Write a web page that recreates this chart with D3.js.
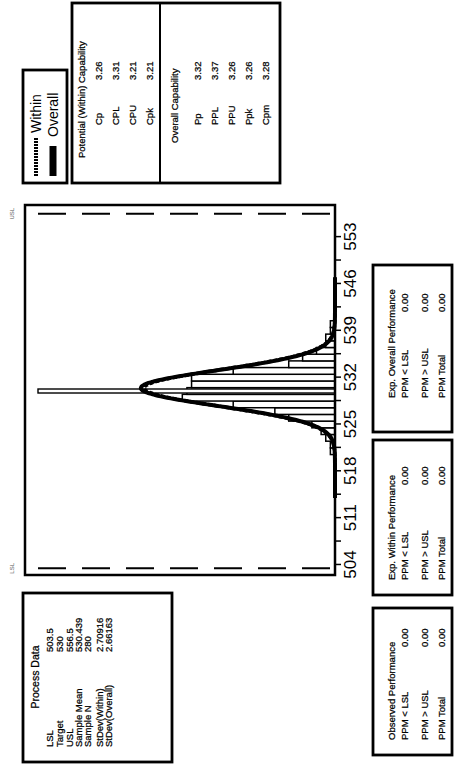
<!DOCTYPE html>
<html>
<head>
<meta charset="utf-8">
<script src="https://cdn.jsdelivr.net/npm/d3@7"></script>
<style>
  body { margin: 0; background: #fff; }
  text { font-family: "Liberation Sans", Arial, sans-serif; fill: #000; }
  text.small { stroke: #000; stroke-width: 0.25px; }
</style>
</head>
<body>
<div id="chart"></div>
<script>
// histogram bins (centre of each 1-unit bin) and counts
const binCenters = [521,522,523,524,525,526,527,528,529,530,531,532,533,534,535,536,537,538,539,540];
const binCounts  = [1,1,2,3,5,10,13,22,33,32,31,31,22,10,7,4,2,2,1,1];

const axisTicks = [504,511,518,525,532,539,546,553];

const processLabels = ["LSL","Target","USL","Sample Mean","Sample N","StDev(Within)","StDev(Overall)"];
const processValues = ["503.5","530","556.5","530.439","280","2.70916","2.66163"];

const withinLabels = ["Cp","CPL","CPU","Cpk"];
const withinValues = ["3.26","3.31","3.21","3.21"];
const overallLabels = ["Pp","PPL","PPU","Ppk","Cpm"];
const overallValues = ["3.32","3.37","3.26","3.26","3.28"];

const perfLabels = ["PPM < LSL","PPM > USL","PPM Total"];
const observedValues = ["0.00","0.00","0.00"];
const expWithinValues = ["0.00","0.00","0.00"];
const expOverallValues = ["0.00","0.00","0.00"];

const LSL = 503.5, TARGET = 530, USL = 556.5;
const MEAN = 530.439, N = 280, SD_WITHIN = 2.70916, SD_OVERALL = 2.66163;

const svg = d3.select("#chart").append("svg")
  .attr("width", 454)
  .attr("height", 765);
svg.append("rect").attr("width", 454).attr("height", 765).attr("fill", "#fff");

// the whole chart is laid out landscape (765 x 454) and turned a quarter left
const g = svg.append("g").attr("transform", "translate(0,765) rotate(-90)");

const x = d3.scaleLinear().domain([502.5, 557.8]).range([190, 560]);
const y = d3.scaleLinear().domain([0, 67]).range([335, 25]);

const txt = (t, tx, ty, size) => g.append("text")
  .attr("class", "small")
  .text(t).attr("x", tx).attr("y", ty).attr("font-size", size || 9.5);

// bars
g.selectAll("rect.bar")
  .data(binCenters)
  .enter()
  .append("rect")
  .attr("class", "bar")
  .attr("x", d => x(d - 0.5))
  .attr("width", d => x(d + 0.5) - x(d - 0.5))
  .attr("y", (d, i) => y(binCounts[i]))
  .attr("height", (d, i) => y(0) - y(binCounts[i]))
  .attr("fill", "#fff")
  .attr("stroke", "#000")
  .attr("stroke-width", 1.5);

// spec lines
[LSL, USL].forEach(v => {
  g.append("line")
    .attr("x1", x(v)).attr("x2", x(v))
    .attr("y1", 38).attr("y2", 333)
    .attr("stroke", "#000")
    .attr("stroke-width", 2)
    .attr("stroke-dasharray", "28,16");
});
g.append("rect")
  .attr("x", x(TARGET) - 2)
  .attr("width", 4)
  .attr("y", 38)
  .attr("height", 335 - 38)
  .attr("fill", "#fff")
  .attr("stroke", "#000")
  .attr("stroke-width", 1.4);

g.append("text").text("LSL").attr("x", x(LSL)).attr("y", 14)
  .attr("text-anchor", "middle").attr("font-size", 6).style("fill", "#555");
g.append("text").text("USL").attr("x", x(USL)).attr("y", 14)
  .attr("text-anchor", "middle").attr("font-size", 6).style("fill", "#555");

// fitted normal curves (from the process data)
const pts = d3.range(514, 547.01, 0.1);
const curve = sd => d3.line()
  .x(d => x(d))
  .y(d => y(N * Math.exp(-((d - MEAN) ** 2) / (2 * sd * sd)) / (sd * Math.sqrt(2 * Math.PI))))
  .curve(d3.curveBasis);

g.append("path")
  .attr("d", curve(SD_OVERALL)(pts))
  .attr("fill", "none")
  .attr("stroke", "#000")
  .attr("stroke-width", 4);
g.append("path")
  .attr("d", curve(SD_WITHIN)(pts))
  .attr("fill", "none")
  .attr("stroke", "#000")
  .attr("stroke-width", 3.5)
  .attr("stroke-dasharray", "4,2");

// frame
g.append("rect")
  .attr("x", 190).attr("y", 25)
  .attr("width", 370).attr("height", 310)
  .attr("fill", "none")
  .attr("stroke", "#000")
  .attr("stroke-width", 2.5);

// axis
const axis = g.append("g")
  .attr("transform", "translate(0,336)")
  .call(d3.axisBottom(x)
    .tickValues(d3.range(504, 554, 3.5))
    .tickSize(5)
    .tickPadding(3)
    .tickFormat(d => axisTicks.includes(d) ? d : ""));
axis.select(".domain").remove();
axis.selectAll("line").attr("stroke", "#000").attr("stroke-width", 1.5);
axis.selectAll("text")
  .attr("font-size", 17)
  .style("font-family", "'Liberation Sans Narrow', 'Arial Narrow', 'Liberation Sans', sans-serif");

// boxes
const box = (x0, y0, x1, y1) => g.append("rect")
  .attr("x", x0).attr("y", y0)
  .attr("width", x1 - x0).attr("height", y1 - y0)
  .attr("fill", "none")
  .attr("stroke", "#000")
  .attr("stroke-width", 2.8);

// process data
box(3, 23, 172, 172);
txt("Process Data", 88, 39, 10.5).attr("text-anchor", "middle");
const pdRows = [50, 60, 70, 79, 88, 100, 109];
processLabels.forEach((t, i) => {
  txt(t, 18, pdRows[i] + 3);
  txt(processValues[i], 113, pdRows[i] + 3);
});

// legend
box(582, 23, 695, 67);
g.append("line").attr("x1", 589).attr("x2", 627).attr("y1", 36).attr("y2", 36)
  .attr("stroke", "#000").attr("stroke-width", 4).attr("stroke-dasharray", "2,1");
g.append("text").text("Within").attr("x", 632).attr("y", 41).attr("font-size", 14);
g.append("line").attr("x1", 589).attr("x2", 619).attr("y1", 53).attr("y2", 53)
  .attr("stroke", "#000").attr("stroke-width", 7);
g.append("text").text("Overall").attr("x", 628).attr("y", 58).attr("font-size", 14);

// capability
box(582, 72, 762, 280);
g.append("line").attr("x1", 582).attr("x2", 762).attr("y1", 160).attr("y2", 160)
  .attr("stroke", "#000").attr("stroke-width", 2);
txt("Potential (Within) Capability", 607, 85);
withinLabels.forEach((t, i) => {
  const yy = 99 + i * 17 + 3;
  txt(t, 640, yy);
  txt(withinValues[i], 685, yy);
});
txt("Overall Capability", 622, 178);
overallLabels.forEach((t, i) => {
  const yy = 198 + i * 17 + 3;
  txt(t, 640, yy);
  txt(overallValues[i], 685, yy);
});

// performance boxes
const perfBox = (x0, x1, title, tx, vx, values) => {
  box(x0, 373, x1, 452);
  txt(title, tx, 395);
  [405, 425, 442].forEach((r, i) => {
    txt(perfLabels[i], tx, r + 3);
    txt(values[i], vx, r + 3);
  });
};
perfBox(10, 157, "Observed Performance", 25, 118, observedValues);
perfBox(170, 325, "Exp. Within Performance", 185, 280, expWithinValues);
perfBox(333, 500, "Exp. Overall Performance", 367, 453, expOverallValues);
</script>
</body>
</html>
